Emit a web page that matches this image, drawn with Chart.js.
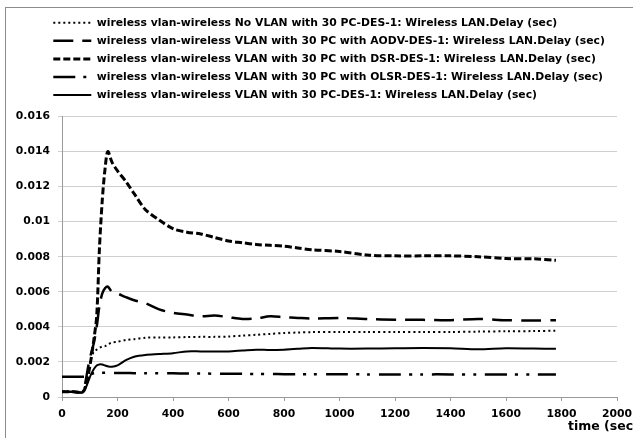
<!DOCTYPE html>
<html>
<head>
<meta charset="utf-8">
<script src="https://cdn.jsdelivr.net/npm/chart.js@4.4.1/dist/chart.umd.min.js"></script>
<style>
  html, body { margin: 0; padding: 0; background: #fff; }
  #wrap { width: 633px; height: 438px; position: relative; }
</style>
</head>
<body>
<div id="wrap"><canvas id="delayChart"></canvas></div>
<script>
// simulation time (sec) where the curves were sampled
const timeSec = [0, 40, 75, 85, 95, 105, 115, 125, 135, 145, 155, 165, 180, 200, 230, 260, 300, 350, 400, 450,
    500, 550, 600, 650, 700, 750, 800, 850, 900, 1000, 1100, 1200, 1300, 1400, 1500, 1600, 1700, 1780];

// Wireless LAN delay (sec), one array per scenario
const noVlan = [0.0003, 0.0003, 0.0003, 0.0008, 0.0015, 0.0022, 0.0026, 0.0027, 0.0028, 0.00288, 0.0029, 0.003, 0.0031, 0.00315, 0.00325, 0.0033, 0.00338, 0.0034, 0.0034, 0.00342,
    0.00343, 0.00343, 0.00345, 0.0035, 0.00355, 0.0036, 0.00365, 0.00368, 0.0037, 0.00371, 0.00371, 0.00371, 0.00371, 0.00371, 0.00373, 0.00375, 0.00376, 0.00378];
const vlanAodv = [0.0003, 0.0003, 0.0003, 0.0009, 0.0018, 0.0025, 0.0031, 0.004, 0.0052, 0.0059, 0.0062, 0.0063, 0.006, 0.0059, 0.0057, 0.00552, 0.00535, 0.005, 0.0048, 0.0047,
    0.0046, 0.00465, 0.00455, 0.00445, 0.00448, 0.0046, 0.00455, 0.00451, 0.00448, 0.00451, 0.00445, 0.00441, 0.0044, 0.00438, 0.00445, 0.00438, 0.00436, 0.00438];
const vlanDsr = [0.0003, 0.0003, 0.0003, 0.0006, 0.0013, 0.0022, 0.0033, 0.0046, 0.0085, 0.0112, 0.013, 0.014, 0.0134, 0.0129, 0.0123, 0.0116, 0.0107, 0.0101, 0.0096, 0.0094,
    0.0093, 0.0091, 0.0089, 0.0088, 0.0087, 0.00865, 0.0086, 0.0085, 0.0084, 0.0083, 0.0081, 0.00805, 0.00805, 0.00805, 0.008, 0.0079, 0.00788, 0.0078];
const vlanOlsr = [0.00115, 0.00115, 0.00115, 0.00115, 0.00118, 0.0013, 0.00135, 0.00137, 0.00138, 0.00138, 0.00138, 0.00138, 0.00138, 0.00137, 0.00137, 0.00136, 0.00136, 0.00135, 0.00135, 0.00134,
    0.00134, 0.00133, 0.00133, 0.00132, 0.00131, 0.00131, 0.0013, 0.0013, 0.0013, 0.0013, 0.00129, 0.00129, 0.00129, 0.00129, 0.00128, 0.00128, 0.00128, 0.00128];
const vlanPlain = [0.00028, 0.00028, 0.00025, 0.0005, 0.0009, 0.0013, 0.0016, 0.0018, 0.00186, 0.00185, 0.0018, 0.00175, 0.00172, 0.0018, 0.0021, 0.0023, 0.0024, 0.00245, 0.0025, 0.0026,
    0.0026, 0.0026, 0.0026, 0.00265, 0.0027, 0.00268, 0.0027, 0.00275, 0.0028, 0.00276, 0.00276, 0.00278, 0.0028, 0.00278, 0.00272, 0.00278, 0.00276, 0.00275];

const seriesNames = [
    'wireless vlan-wireless No VLAN with 30 PC-DES-1: Wireless LAN.Delay (sec)',
    'wireless vlan-wireless VLAN with 30 PC with AODV-DES-1: Wireless LAN.Delay (sec)',
    'wireless vlan-wireless VLAN with 30 PC with DSR-DES-1: Wireless LAN.Delay (sec)',
    'wireless vlan-wireless VLAN with 30 PC with OLSR-DES-1: Wireless LAN.Delay (sec)',
    'wireless vlan-wireless VLAN with 30 PC-DES-1: Wireless LAN.Delay (sec)'
];

const toPoints = arr => arr.map((v, i) => ({ x: timeSec[i], y: v }));
const FONT = 'DejaVu Sans';

// grey frame of the original chart object, legend nudge, clipped axis title
const framePlugin = {
    id: 'frame',
    afterLayout(chart) {
        // legend rows sit further right / higher than chart.js would put them
        chart.legend.left = 46;
        chart.legend.top -= 6;
    },
    beforeDraw(chart) {
        const ctx = chart.ctx;
        ctx.save();
        ctx.strokeStyle = '#8c8c8c';
        ctx.lineWidth = 1;
        ctx.strokeRect(5.5, 7.5, 700, 500);
        ctx.restore();
    },
    afterDraw(chart) {
        const ctx = chart.ctx;
        ctx.save();
        ctx.font = 'bold 12.5px "' + FONT + '"';
        ctx.fillStyle = '#000';
        ctx.textAlign = 'left';
        ctx.textBaseline = 'middle';
        ctx.fillText('time (sec)', 568, 427);
        ctx.restore();
    }
};

function lineSet(label, data, dash, width) {
    return {
        label: label,
        data: toPoints(data),
        borderColor: '#000',
        backgroundColor: '#000',
        borderWidth: width,
        borderDash: dash,
        borderCapStyle: 'butt',
        pointRadius: 0,
        tension: 0.3,
        fill: false
    };
}

new Chart(document.getElementById('delayChart'), {
    type: 'line',
    data: {
        datasets: [
            lineSet(seriesNames[0], noVlan, [2, 3], 2),
            lineSet(seriesNames[1], vlanAodv, [20, 9], 2.5),
            lineSet(seriesNames[2], vlanDsr, [7, 3], 3),
            lineSet(seriesNames[3], vlanOlsr, [22, 8, 3, 8, 3, 9], 2.5),
            lineSet(seriesNames[4], vlanPlain, [], 2)
        ]
    },
    options: {
        responsive: true,
        maintainAspectRatio: false,
        animation: false,
        layout: { padding: { left: 10, top: 16, right: 0, bottom: 0 } },
        plugins: {
            legend: {
                position: 'top',
                align: 'start',
                labels: {
                    usePointStyle: true,
                    pointStyle: 'line',
                    pointStyleWidth: 38,
                    padding: 7.3,
                    color: '#000',
                    font: { family: FONT, size: 10.8, weight: 'bold' },
                    // line samples should carry each dataset's dash pattern
                    generateLabels: chart => Chart.defaults.plugins.legend.labels.generateLabels(chart).map((item, i) => {
                        const ds = chart.data.datasets[i];
                        return Object.assign(item, {
                            lineDash: ds.borderDash,
                            lineWidth: ds.borderWidth,
                            strokeStyle: '#000',
                            fillStyle: '#000'
                        });
                    })
                }
            },
            tooltip: { enabled: false }
        },
        scales: {
            x: {
                type: 'linear',
                min: 0,
                max: 2000,
                afterFit: axis => { axis.height = 41; axis.paddingRight = 16; },
                ticks: {
                    stepSize: 200,
                    padding: 7,
                    maxRotation: 0,
                    color: '#000',
                    font: { family: FONT, size: 10.8, weight: 'bold' },
                    callback: v => String(v)
                },
                grid: { drawOnChartArea: false, drawTicks: true, tickLength: 4, color: '#9a9a9a' },
                border: { color: '#9a9a9a' }
            },
            y: {
                min: 0,
                max: 0.016,
                afterFit: axis => { axis.width = 52; },
                ticks: {
                    stepSize: 0.002,
                    padding: 8,
                    color: '#000',
                    font: { family: FONT, size: 10.8, weight: 'bold' },
                    callback: v => String(+v.toFixed(3))
                },
                grid: { color: '#cfcfcf', tickLength: 4 },
                border: { color: '#9a9a9a' }
            }
        }
    },
    plugins: [framePlugin]
});
</script>
</body>
</html>
